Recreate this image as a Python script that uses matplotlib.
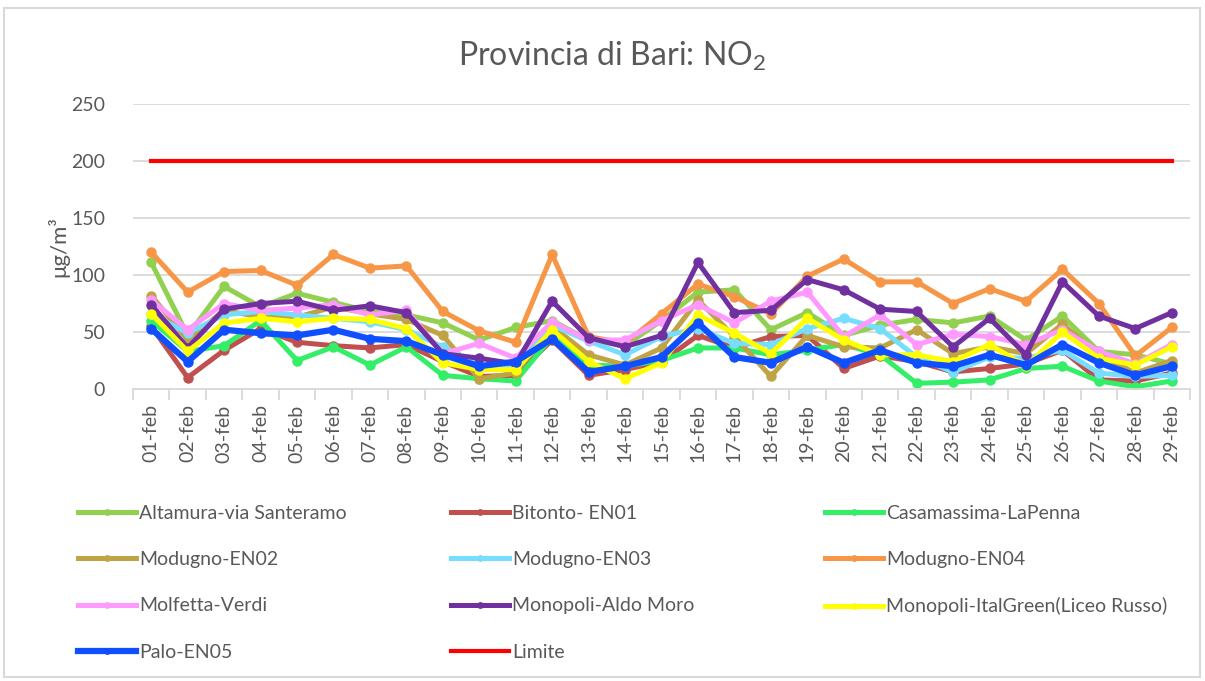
import matplotlib
matplotlib.use("Agg")
import matplotlib.pyplot as plt
from matplotlib.patches import Rectangle
import matplotlib.font_manager as fm

available = {f.name for f in fm.fontManager.ttflist}
FONT = [f for f in ["Lato", "Open Sans", "DejaVu Sans"] if f in available] + ["DejaVu Sans"]
plt.rcParams['font.family'] = FONT
plt.rcParams['mathtext.fontset'] = 'custom'
plt.rcParams['mathtext.rm'] = FONT[0]
plt.rcParams['mathtext.it'] = FONT[0]

days = ["%02d-feb" % d for d in range(1, 30)]

altamura = [111, 47, 90, 72, 84, 76, 68, 65, 58, 43, 54, 60, 43, 38, 60, 85, 87, 52, 67, 47, 56, 61, 58, 64, 43, 64, 33, 30, 22]
bitonto = [55, 10, 34, 53, 41, 38, 36, 39, 24, 11, 12, 43, 12, 17, 24, 47, 36, 46, 47, 18, 29, 24, 15, 18, 22, 34, 8, 7, 14]
casamassima = [60, 33, 38, 60, 25, 37, 21, 37, 12, 9, 7, 46, 21, 20, 25, 36, 36, 30, 34, 39, 30, 5, 6, 8, 18, 20, 7, 2, 7]
modugno_en02 = [82, 43, 69, 63, 63, 72, 66, 61, 47, 9, 14, 55, 30, 21, 36, 78, 46, 11, 47, 37, 36, 52, 31, 37, 31, 57, 30, 14, 25]
modugno_en03 = [66, 49, 65, 68, 65, 62, 59, 52, 37, 21, 20, 56, 42, 30, 46, 53, 40, 39, 53, 62, 53, 28, 15, 28, 27, 34, 14, 11, 12]
modugno_en04 = [120, 85, 103, 104, 91, 118, 106, 108, 68, 51, 41, 118, 46, 40, 66, 92, 81, 66, 99, 114, 94, 94, 75, 88, 77, 105, 75, 29, 54]
molfetta = [78, 52, 75, 69, 71, 74, 65, 69, 31, 40, 27, 59, 43, 43, 60, 74, 58, 77, 85, 46, 65, 39, 48, 46, 39, 52, 33, 22, 39]
monopoli_am = [74, 36, 70, 75, 77, 69, 73, 67, 31, 27, 22, 77, 45, 37, 47, 111, 67, 69, 96, 87, 70, 68, 37, 62, 30, 94, 64, 53, 67]
monopoli_ig = [66, 33, 58, 62, 59, 62, 61, 53, 23, 17, 17, 52, 24, 9, 23, 65, 49, 31, 62, 43, 30, 30, 24, 39, 20, 50, 27, 21, 37]
palo = [53, 24, 52, 49, 47, 52, 44, 42, 30, 20, 24, 44, 15, 20, 28, 58, 28, 23, 37, 23, 34, 23, 20, 30, 21, 39, 23, 12, 20]
limite = [200] * 29

series = [
    ("Altamura-via Santeramo", altamura, "#92D050"),
    ("Bitonto- EN01", bitonto, "#C0504D"),
    ("Casamassima-LaPenna", casamassima, "#33EE66"),
    ("Modugno-EN02", modugno_en02, "#BFA345"),
    ("Modugno-EN03", modugno_en03, "#77DDFF"),
    ("Modugno-EN04", modugno_en04, "#F79646"),
    ("Molfetta-Verdi", molfetta, "#FF99FF"),
    ("Monopoli-Aldo Moro", monopoli_am, "#7030A0"),
    ("Monopoli-ItalGreen(Liceo Russo)", monopoli_ig, "#FFFF00"),
    ("Palo-EN05", palo, "#0F4FFF"),
]

TXT = "#595959"
GRID = "#D9D9D9"

fig = plt.figure(figsize=(12.05, 6.81), dpi=100)
fig.patches.append(Rectangle((4 / 1205, 4 / 681), 1196 / 1205, 669 / 681, transform=fig.transFigure,
                             fill=False, edgecolor=GRID, linewidth=1.5))
ax = fig.add_axes([133 / 1205, 1 - 389 / 681, (1190 - 133) / 1205, (389 - 104) / 681])

x = list(range(len(days)))
handles = []
for name, vals, col in series:
    lw = 4.5 if name == "Palo-EN05" else 3.6
    h, = ax.plot(x, vals, color=col, lw=lw, marker="o", ms=6.5, label=name, solid_joinstyle="round")
    handles.append(h)
h, = ax.plot(x, limite, color="#FF0000", lw=3.0, label="Limite")
handles.append(h)

ax.set_xlim(-0.5, len(days) - 0.5)
ax.set_ylim(0, 250)
ax.set_yticks([0, 50, 100, 150, 200, 250])
ax.yaxis.grid(True, color=GRID, lw=1.3)
ax.set_axisbelow(True)
for s in ["top", "right", "left"]:
    ax.spines[s].set_visible(False)
ax.spines["bottom"].set_color(GRID)
ax.spines["bottom"].set_linewidth(1.3)
ax.tick_params(axis="y", length=0, labelsize=14, labelcolor=TXT, pad=20)
ax.set_xticks(x)
ax.set_xticklabels(days, rotation=90, fontsize=14, color=TXT)
ax.tick_params(axis="x", length=0, pad=11)
ax.set_xticks([i + 0.5 for i in range(-1, len(days))], minor=True)
ax.tick_params(axis="x", which="minor", length=8, color=GRID, width=1.3)

ax.set_ylabel("μg/m³", fontsize=16, color=TXT)
ax.yaxis.set_label_coords(-0.060, 0.50)

fig.text(0.508, 1 - 56 / 681, "Provincia di Bari: NO$_2$", ha="center", va="center", fontsize=23, color=TXT)

cols = [[0, 3, 6, 9], [1, 4, 7, 10], [2, 5, 8]]
xs = [78, 451, 825]
for xi, idxs in zip(xs, cols):
    leg = fig.legend([handles[i] for i in idxs], [handles[i].get_label() for i in idxs],
                     loc="upper left", bbox_to_anchor=(xi / 1205, 1 - 505 / 681),
                     frameon=False, fontsize=14, handlelength=3.0, handletextpad=0.15,
                     labelspacing=1.5, borderaxespad=0, borderpad=0, markerscale=0.6)
    for t in leg.get_texts():
        t.set_color(TXT)

fig.savefig("out.png", dpi=100)
